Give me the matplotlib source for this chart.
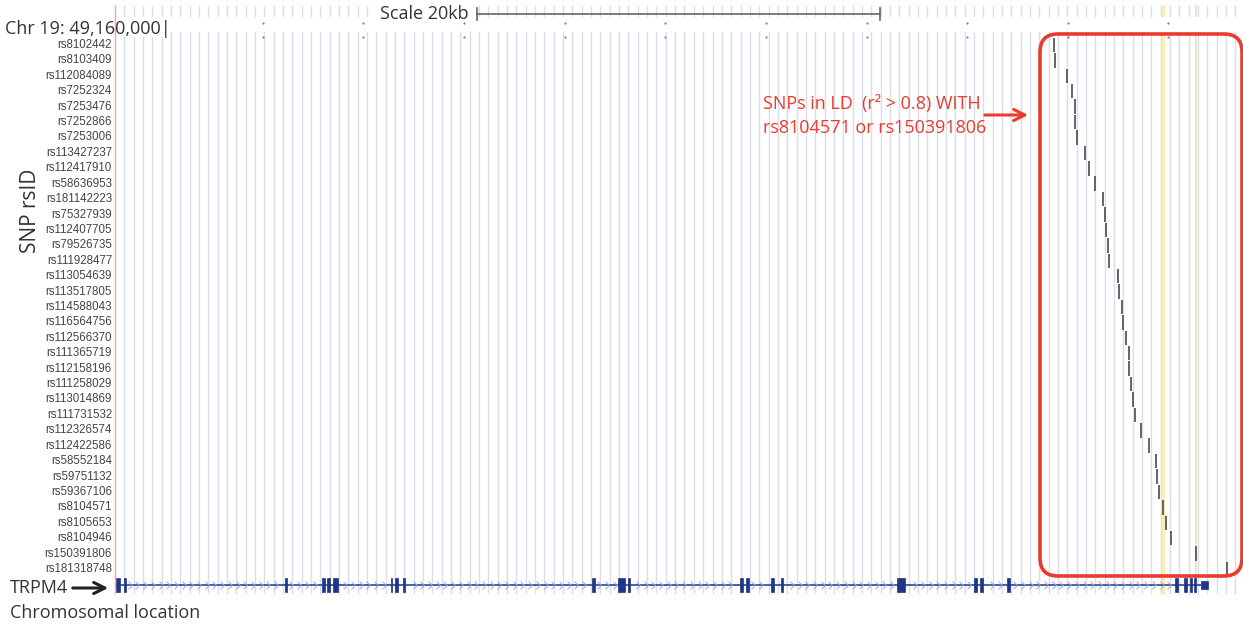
import matplotlib
matplotlib.use('Agg')
import matplotlib.pyplot as plt
import numpy as np
from matplotlib.patches import FancyBboxPatch, Rectangle
from matplotlib.path import Path
from matplotlib.transforms import Affine2D

# SNPs in LD, top to bottom (chr19 positions, bp)
snp_ids = ['rs8102442', 'rs8103409', 'rs112084089', 'rs7252324', 'rs7253476', 'rs7252866',
           'rs7253006', 'rs113427237', 'rs112417910', 'rs58636953', 'rs181142223', 'rs75327939',
           'rs112407705', 'rs79526735', 'rs111928477', 'rs113054639', 'rs113517805', 'rs114588043',
           'rs116564756', 'rs112566370', 'rs111365719', 'rs112158196', 'rs111258029', 'rs113014869',
           'rs111731532', 'rs112326574', 'rs112422586', 'rs58552184', 'rs59751132', 'rs59367106',
           'rs8104571', 'rs8105653', 'rs8104946', 'rs150391806', 'rs181318748']
snp_pos = [49204297, 49204347, 49204943, 49205191, 49205340, 49205355, 49205439, 49205837,
           49206051, 49206334, 49206761, 49206870, 49206880, 49206980, 49207029, 49207476,
           49207526, 49207705, 49207715, 49207904, 49208023, 49208033, 49208137, 49208251,
           49208351, 49208634, 49209016, 49209394, 49209444, 49209528, 49209742, 49209891,
           49210124, 49211366, 49212891]
index_snps = ['rs8104571', 'rs150391806']

# TRPM4 gene model
exon_starts = [49157715, 49158137, 49166110, 49167963, 49168197, 49168510, 49171376, 49171575,
               49171987, 49181376, 49182653, 49183134, 49188713, 49189011, 49190268, 49190750,
               49196513, 49200338, 49200636, 49201977, 49210308, 49210785, 49211068, 49211282,
               49211614]
exon_ends = [49157889, 49158212, 49166210, 49168097, 49168346, 49168728, 49171441, 49171739,
             49172096, 49181495, 49183015, 49183249, 49188847, 49189145, 49190388, 49190850,
             49196910, 49200462, 49200785, 49202126, 49210472, 49210934, 49211182, 49211351,
             49211947]
exon_utr = [False] * 24 + [True]

chrom_label = 'Chr 19: 49,160,000|'
ref_pos = 49160000
scale_bp = 20000
tick_step = 5000

W, H = 1243, 627
px_per_bp = 20.13 / 1000.0
ref_px = 162.0
row_px0, row_h = 45.0, 15.412


def bx(px):
    return ref_pos + (px - ref_px) / px_per_bp


def ry(py):
    return (py - row_px0) / row_h


fig = plt.figure(figsize=(W / 100, H / 100), dpi=100)
ax = fig.add_axes([0, 0, 1, 1])
ax.set_xlim(bx(0), bx(W))
ax.set_ylim(ry(H), ry(0))
ax.axis('off')

# pixel coordinates, y downwards
tp = Affine2D().scale(0.01, -0.01).translate(0, H / 100) + fig.dpi_scale_trans

# background grid
gx = bx(115 + 9.336 * np.arange(0, 121))
ax.vlines(gx[1:], ry(5), ry(594), color='#dadded', lw=1.0, zorder=1)
ax.vlines(gx[0], ry(5), ry(594), color='#f3a6a6', lw=1.0, zorder=6)

# highlights at index SNPs
hl_pos = [snp_pos[snp_ids.index(s)] for s in index_snps]
ax.vlines(hl_pos[0], ry(5), ry(594), color='#f8eeb2', lw=2.2, zorder=2)
ax.vlines(hl_pos[1], ry(5), ry(594), color='#eee6c8', lw=1.6, zorder=2)

# white strips of the ruler
ax.add_patch(Rectangle((0, 17), W, 15, transform=tp, facecolor='white', edgecolor='none', zorder=3))
ax.add_patch(Rectangle((0, 17), 165, 20, transform=tp, facecolor='white', edgecolor='none', zorder=3))
ax.add_patch(Rectangle((372, 0), 105, 28, transform=tp, facecolor='white', edgecolor='none', zorder=3))

ticks = np.arange(ref_pos + tick_step, bx(W), tick_step)
ax.plot(ticks, [ry(23)] * len(ticks), ls='none', marker='s', ms=0.6, color='#888888', zorder=4)
ax.plot(ticks, [ry(37)] * len(ticks), ls='none', marker='s', ms=0.6, color='#888888', zorder=4)

# SNP ticks
rows = np.arange(len(snp_ids))
ax.vlines(snp_pos, rows - 0.47, rows + 0.47, color='#585858', lw=1.3, zorder=5)
for r, name in zip(rows, snp_ids):
    ax.text(bx(112), r, name, ha='right', va='center', fontsize=8.3,
            family='Liberation Sans', color='#444444')

# gene track
gene_row = ry(585)
gene_start, gene_end = exon_starts[0], exon_starts[-1]
ax.hlines(gene_row, gene_start, gene_end, color='#1f3585', lw=1.1, zorder=4)
chev = np.arange(gene_start + 300, gene_end, 7.7 / px_per_bp)
inside = np.zeros(len(chev), dtype=bool)
for s, e in zip(exon_starts, exon_ends):
    inside |= (chev > s - 150) & (chev < e + 150)
chev = chev[~inside]
chev_marker = Path([(-0.5, 1), (0.5, 0), (-0.5, -1)], [Path.MOVETO, Path.LINETO, Path.LINETO])
ax.plot(chev, [gene_row] * len(chev), ls='none', marker=chev_marker, ms=5.5, mew=0.7,
        mfc='none', mec='#9aa6d6', zorder=4)
for s, e, utr in zip(exon_starts, exon_ends, exon_utr):
    hh = 4.0 / row_h if utr else 7.0 / row_h
    ax.add_patch(Rectangle((s, gene_row - hh), e - s, 2 * hh, facecolor='#1f3585',
                           edgecolor='#1f3585', lw=0.5, zorder=5))

# header
font = 'Open Sans'
ax.text(5, 29, chrom_label, transform=tp, ha='left', va='center', fontsize=13,
        family=font, color='#333333', zorder=7)
ax.text(380, 14, 'Scale 20kb', transform=tp, ha='left', va='center', fontsize=13,
        family=font, color='#333333', zorder=7)
sb0 = 477
sb1 = sb0 + scale_bp * px_per_bp
ax.plot([sb0, sb1], [14, 14], transform=tp, color='#666666', lw=1.2, zorder=7)
ax.plot([sb0, sb0], [8, 20], transform=tp, color='#666666', lw=1.2, zorder=7)
ax.plot([sb1, sb1], [8, 20], transform=tp, color='#666666', lw=1.2, zorder=7)

ax.text(30, 211, 'SNP rsID', transform=tp, ha='center', va='center', rotation=90,
        fontsize=15, family=font, color='#333333')
ax.text(10, 588, 'TRPM4', transform=tp, ha='left', va='center', fontsize=13,
        family=font, color='#333333')
ax.text(10, 613, 'Chromosomal location', transform=tp, ha='left', va='center', fontsize=13,
        family=font, color='#333333')
ax.annotate('', xy=(111, 588), xytext=(70, 588), xycoords=tp, textcoords=tp,
            arrowprops=dict(arrowstyle='->', color='#222222', lw=2.2, mutation_scale=20))

# LD annotation
red = '#ea3b2c'
ax.add_patch(FancyBboxPatch((1040, 34), 202, 542, transform=tp,
                            boxstyle='round,pad=0,rounding_size=18', facecolor='none',
                            edgecolor=red, lw=2.6, zorder=8, clip_on=False))
ax.text(763, 104, 'SNPs in LD  (r² > 0.8) WITH', transform=tp, ha='left', va='center',
        fontsize=13, family=font, color=red, zorder=8)
ax.text(763, 128, 'rs8104571 or rs150391806', transform=tp, ha='left', va='center',
        fontsize=13, family=font, color=red, zorder=8)
ax.annotate('', xy=(1031, 115), xytext=(982, 115), xycoords=tp, textcoords=tp,
            arrowprops=dict(arrowstyle='->', color=red, lw=2.2, mutation_scale=20))

fig.savefig('out.png', dpi=100)
